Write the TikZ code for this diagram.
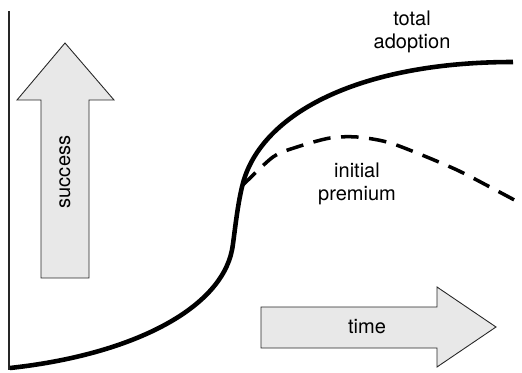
\documentclass[tikz,border=0pt]{standalone}
\usepackage{fontspec}
\setmainfont{TeX Gyre Heros}
\usetikzlibrary{positioning}

\begin{document}
\begin{tikzpicture}[
  font=\fontsize{11.4}{13.1}\selectfont,
  bigarrow/.style={draw=black!85, line width=0.5pt, fill=gray!18},
  curvelabel/.style={align=center, inner sep=0pt},
  growth/.style={line width=2.6pt},
  premium/.style={line width=2pt, dash pattern=on 10pt off 6pt}
]
\useasboundingbox (0,0) rectangle (10.44,7.44);

\coordinate (axistop) at (0.18,7.22);
\coordinate (origin) at (0.18,0.04);
\draw[line width=0.6pt, black!85] (axistop) -- (origin);

\draw[bigarrow] (0.82,1.88) -- (0.82,5.44) -- (0.34,5.44) -- (1.30,6.58)
  -- (2.28,5.44) -- (1.78,5.44) -- (1.78,1.88) -- cycle;
\node[rotate=90] (success) at (1.30,4.00) {success};

\draw[bigarrow] (5.22,0.48) -- (5.22,1.30) -- (8.74,1.30) -- (8.74,1.70)
  -- (9.92,0.90) -- (8.74,0.10) -- (8.74,0.48) -- cycle;
\node (time) at (7.34,0.90) {time};

\coordinate (start) at (0.20,0.08);
\coordinate (bend) at (4.64,2.44);
\coordinate (split) at (4.86,3.78);
\coordinate (plateau) at (10.26,6.20);
\draw[growth] (start) .. controls (2.60,0.34) and (4.40,1.24) .. (bend)
  .. controls (4.68,2.64) and (4.74,3.34) .. (split)
  .. controls (5.24,5.18) and (7.20,6.20) .. (plateau);
\draw[premium] plot[smooth] coordinates {(4.86,3.74) (5.46,4.30) (5.94,4.50)
  (6.60,4.68) (7.14,4.70) (7.74,4.60) (8.34,4.38) (9.14,4.04) (9.80,3.70)
  (10.40,3.38)};

\node[curvelabel] (adoption) at (8.24,6.81) {total\\adoption};
\node[curvelabel] (initial) at (7.14,3.76) {initial\\premium};
\end{tikzpicture}
\end{document}
